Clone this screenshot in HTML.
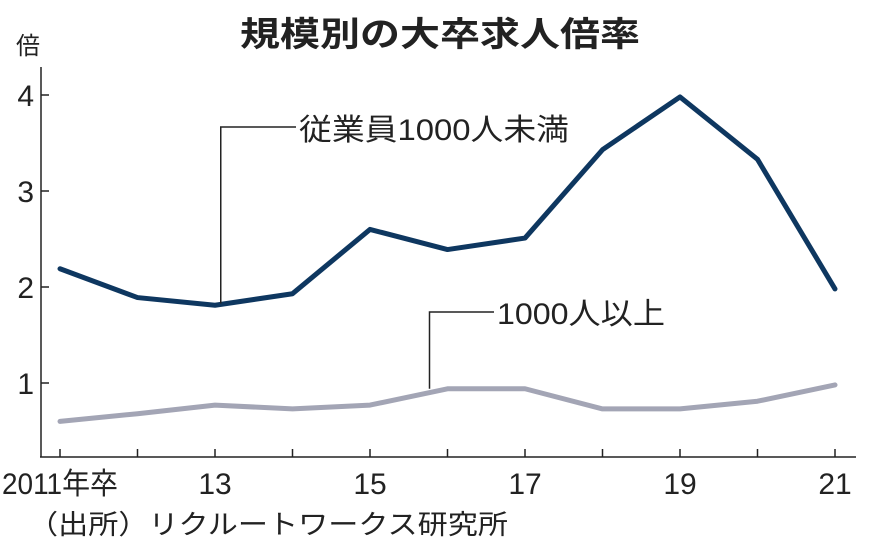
<!DOCTYPE html>
<html><head><meta charset="utf-8"><style>
html,body{margin:0;padding:0;background:#fff;}
svg{display:block;font-family:"Liberation Sans","Noto Sans CJK JP",sans-serif;}
</style></head><body>
<svg id="chart" width="876" height="560" viewBox="0 0 876 560">
<text x="440" y="46" text-anchor="middle" font-size="34" font-weight="bold" fill="#222" textLength="400" lengthAdjust="spacingAndGlyphs">規模別の大卒求人倍率</text>
<text x="16" y="54" font-size="24" fill="#222">倍</text>
<g id="axes"></g>
<g id="series"></g>
<text x="28" y="534" font-size="27" fill="#222" textLength="480" lengthAdjust="spacingAndGlyphs">（出所）リクルートワークス研究所</text>
</svg>
<script>
const years = [2011,2012,2013,2014,2015,2016,2017,2018,2019,2020,2021];
const small = [2.19,1.89,1.81,1.93,2.60,2.39,2.51,3.43,3.98,3.33,1.98];
const large = [0.60,0.68,0.77,0.73,0.77,0.94,0.94,0.73,0.73,0.81,0.98];
const yTicks = [1,2,3,4];
const xTickLabels = ["2011年卒","13","15","17","19","21"];
const xLabelYears = [2011,2013,2015,2017,2019,2021];

const NS="http://www.w3.org/2000/svg";
const xS = y => 60 + (y-2011)*77.5;
const yS = v => 479 - v*96;
function mk(tag, attrs, parent){const e=document.createElementNS(NS,tag);for(const k in attrs)e.setAttribute(k,attrs[k]);parent.appendChild(e);return e;}
const axes=document.getElementById('axes');
const ser=document.getElementById('series');

let ya=mk('line',{x1:41,y1:67,x2:41,y2:457,stroke:'#222','stroke-width':1.5},axes);


let xa=mk('line',{x1:40,y1:457,x2:856,y2:457,stroke:'#222','stroke-width':1.5},axes);


yTicks.forEach(v=>{
  const t=mk('line',{x1:41,y1:yS(v),x2:49,y2:yS(v),stroke:'#222','stroke-width':1.5},axes);
  
  
  const l=mk('text',{x:34,y:yS(v)+11,'text-anchor':'end','font-size':30,fill:'#222'},axes);
  l.textContent=v;
  
  
});
years.forEach(y=>{
  const t=mk('line',{x1:xS(y),y1:449,x2:xS(y),y2:457,stroke:'#222','stroke-width':1.5},axes);
  
  
});
xTickLabels.forEach((s,i)=>{
  const x=xS(xLabelYears[i]);
  const l=mk('text',{x:i===0?2:x,y:494,'text-anchor':i===0?'start':'middle','font-size':30,fill:'#222'},axes);
  if(i===0){l.setAttribute('textLength','116');l.setAttribute('lengthAdjust','spacingAndGlyphs');}
  l.textContent=s;
  
  
});
function line(vals,color,name){
  const p=mk('polyline',{points:vals.map((v,i)=>xS(years[i])+','+yS(v)).join(' '),fill:'none',stroke:color,'stroke-width':5,'stroke-linejoin':'round','stroke-linecap':'round'},ser);
  
  
}
line(large,'#a3a5b5','series-1000-plus');
line(small,'#0e3760','series-under-1000');

// annotation leaders
const sx=(xS(2013)+xS(2014))/2-33, sy=(yS(small[2])+yS(small[3]))/2+4;
let l1=mk('polyline',{points:`${sx},${sy} ${sx},127 296,127`,fill:'none',stroke:'#222','stroke-width':1.5},ser);


let t1=mk('text',{x:299,y:140,'font-size':30,fill:'#222',textLength:270,lengthAdjust:'spacingAndGlyphs'},ser);
t1.textContent='従業員1000人未満';


const lx=xS(2016)-18;
let l2=mk('polyline',{points:`${lx},${yS(large[5])} ${lx},312 494,312`,fill:'none',stroke:'#222','stroke-width':1.5},ser);


let t2=mk('text',{x:497,y:324,'font-size':30,fill:'#222',textLength:168,lengthAdjust:'spacingAndGlyphs'},ser);
t2.textContent='1000人以上';


</script>
</body></html>
